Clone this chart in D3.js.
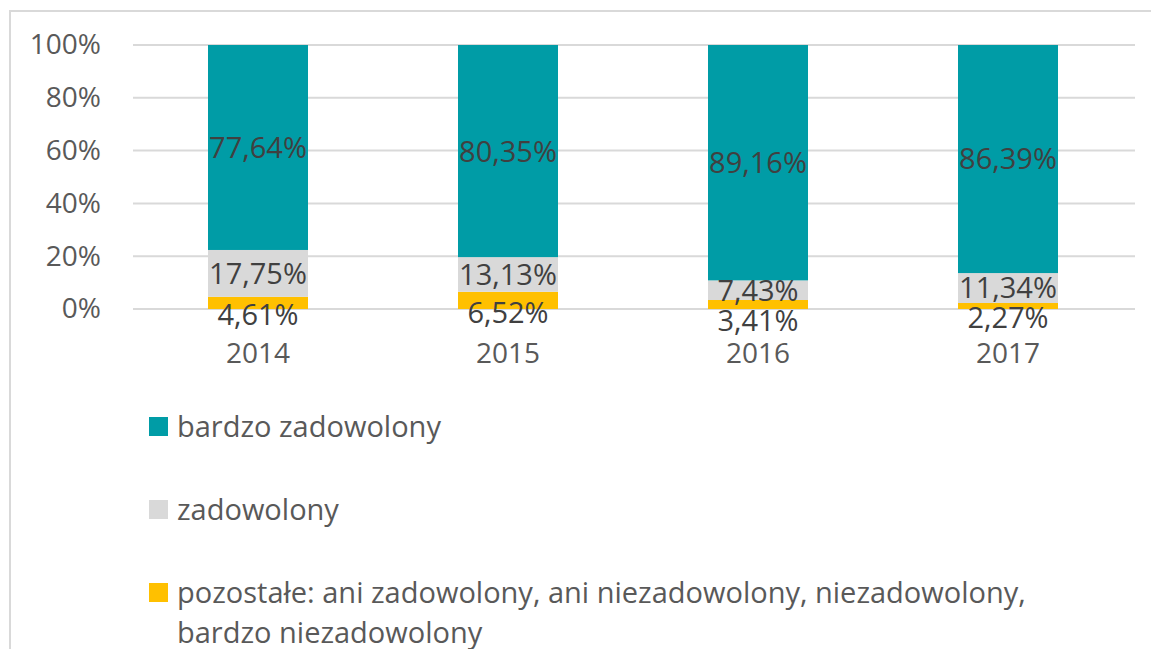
<!DOCTYPE html>
<html>
<head>
<meta charset="utf-8">
<script src="https://cdn.jsdelivr.net/npm/d3@7"></script>
<style>
  html, body { margin: 0; padding: 0; background: #fff; }
  svg { display: block; font-family: 'Open Sans', sans-serif; }
</style>
</head>
<body>
<div id="chartContainer"></div>
<script>
// chart data
const years = ['2014', '2015', '2016', '2017']
const seriesNames = [
  'pozostałe: ani zadowolony, ani niezadowolony, niezadowolony, bardzo niezadowolony',
  'zadowolony',
  'bardzo zadowolony'
]
const pozostale = [4.61, 6.52, 3.41, 2.27]
const zadowolony = [17.75, 13.13, 7.43, 11.34]
const bardzoZadowolony = [77.64, 80.35, 89.16, 86.39]
const yTicks = [0, 20, 40, 60, 80, 100]
const colors = ['#FFC000', '#D9D9D9', '#009CA6']

const width = 1151
const height = 649
const margin = { top: 45, right: 16, bottom: 340, left: 133 }

const svg = d3.select('#chartContainer').append('svg')
  .attr('width', width)
  .attr('height', height)

// outer frame (only top and left visible)
svg.append('path')
  .attr('d', 'M10,' + height + 'V11H' + width)
  .style('fill', 'none')
  .style('stroke', '#d9d9d9')
  .style('stroke-width', 2)

const x = d3.scaleBand()
  .domain(years)
  .range([margin.left, width - margin.right - 2])
  .paddingInner(0.6)
  .paddingOuter(0.3)

const y = d3.scaleLinear()
  .domain([0, 100])
  .range([height - margin.bottom, margin.top])

// gridlines
svg.append('g')
  .selectAll('line')
  .data(yTicks)
  .enter()
  .append('line')
  .attr('x1', margin.left)
  .attr('x2', width - margin.right)
  .attr('y1', d => y(d))
  .attr('y2', d => y(d))
  .style('stroke', '#d9d9d9')
  .style('stroke-width', 2)

// y axis labels
const yAxis = d3.axisLeft(y).tickValues(yTicks).tickFormat(d => d + '%').tickSize(0).tickPadding(0)
const yg = svg.append('g')
  .attr('transform', 'translate(101,0)')
  .call(yAxis)
yg.select('.domain').remove()
yg.selectAll('text')
  .style('font-family', "'Open Sans', sans-serif")
  .style('font-size', '28px')
  .style('fill', '#595959')

// stack
const rows = years.map((yr, i) => ({
  year: yr,
  s0: pozostale[i],
  s1: zadowolony[i],
  s2: bardzoZadowolony[i]
}))
const stack = d3.stack().keys(['s0', 's1', 's2'])
const stacked = stack(rows)

const layers = svg.append('g')
  .selectAll('g')
  .data(stacked)
  .enter()
  .append('g')
  .style('fill', (d, i) => colors[i])

layers.selectAll('rect')
  .data(d => d)
  .enter()
  .append('rect')
  .attr('x', d => x(d.data.year))
  .attr('width', x.bandwidth())
  .attr('y', d => y(d[1]))
  .attr('height', d => y(d[0]) - y(d[1]))

// data labels, top to bottom per bar, pushed down when they would collide
const fmt = v => v.toFixed(2).replace('.', ',') + '%'
const labelGroup = svg.append('g')
years.forEach((yr, i) => {
  let prev = -Infinity
  for (let k = stacked.length - 1; k >= 0; k--) {
    const seg = stacked[k][i]
    const top = y(seg[1])
    const bottom = y(seg[0])
    let cy = (top + bottom) / 2
    if (bottom - top < 18) cy += 12   // thin segment: label hangs below
    cy = Math.max(cy, prev + 30)
    prev = cy
    labelGroup.append('text')
      .attr('x', x(yr) + x.bandwidth() / 2)
      .attr('y', cy)
      .attr('dy', '0.36em')
      .attr('text-anchor', 'middle')
      .style('font-size', '29px')
      .style('fill', '#404040')
      .text(fmt(seg[1] - seg[0]))
  }
})

// category labels
svg.append('g')
  .selectAll('text')
  .data(years)
  .enter()
  .append('text')
  .attr('x', d => x(d) + x.bandwidth() / 2)
  .attr('y', 363)
  .attr('text-anchor', 'middle')
  .style('font-size', '28px')
  .style('fill', '#595959')
  .text(d => d)

// legend
const legendOrder = [2, 1, 0]
const legend = svg.append('g')
legendOrder.forEach((si, j) => {
  const gy = 417 + j * 83
  legend.append('rect')
    .attr('x', 149)
    .attr('y', gy)
    .attr('width', 19)
    .attr('height', 19)
    .style('fill', colors[si])

  const txt = legend.append('text')
    .attr('x', 177)
    .attr('y', gy + 20)
    .style('font-size', '29px')
    .style('fill', '#595959')

  // simple word wrap
  const words = seriesNames[si].split(' ')
  let line = []
  let tspan = txt.append('tspan').attr('x', 177).attr('dy', 0)
  words.forEach(w => {
    line.push(w)
    tspan.text(line.join(' '))
    if (tspan.node().getComputedTextLength() > 900 && line.length > 1) {
      line.pop()
      tspan.text(line.join(' '))
      line = [w]
      tspan = txt.append('tspan').attr('x', 177).attr('dy', 40).text(w)
    }
  })
})
</script>
</body>
</html>
